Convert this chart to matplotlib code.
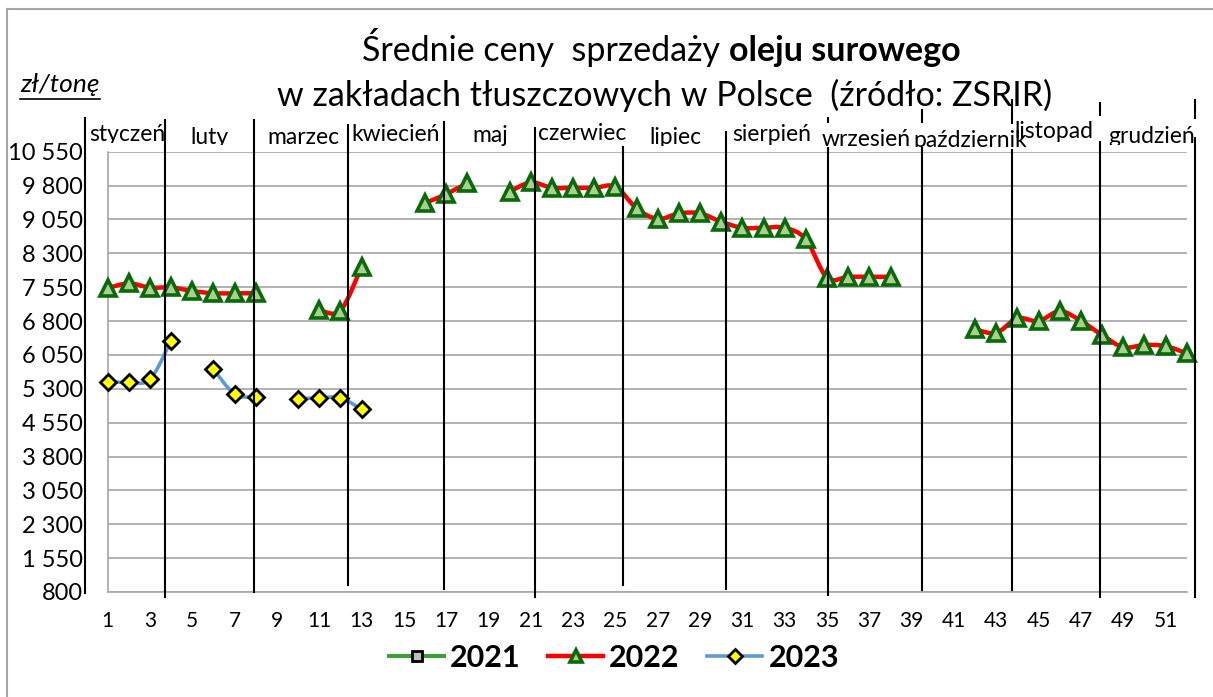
import numpy as np
import matplotlib
matplotlib.use('Agg')
import matplotlib.pyplot as plt
from matplotlib.path import Path
from matplotlib.patches import PathPatch
from matplotlib.lines import Line2D
import matplotlib.transforms as mtransforms
from matplotlib.ticker import FixedLocator, FuncFormatter

plt.rcParams['font.family'] = ['Lato', 'DejaVu Sans']

# ---------------- data ----------------
nan = np.nan
weeks = list(range(1, 53))
prices_2021 = []          # no values shown for 2021 (legend only)
weeks_2021 = []
prices_2022 = [7530, 7635, 7540, 7545, 7465, 7415, 7415, 7415, nan, nan,
               7045, 7030, 8000, nan, nan, 9415, 9610, 9860, nan, 9665,
               9870, 9750, 9750, 9750, 9775, 9295, 9060, 9185, 9185, 9000,
               8865, 8865, 8865, 8610, 7760, 7780, 7780, 7780, nan, nan,
               nan, 6615, 6540, 6860, 6800, 7020, 6805, 6490, 6220, 6270,
               6245, 6085]
weeks_2023 = list(range(1, 14))
prices_2023 = [5455, 5445, 5510, 6365, nan, 5730, 5185, 5110, nan, 5075,
               5100, 5100, 4845]
y_ticks = [800, 1550, 2300, 3050, 3800, 4550, 5300, 6050, 6800, 7550,
           8300, 9050, 9800, 10550]
x_ticks = list(range(1, 52, 2))
months = ['styczeń', 'luty', 'marzec', 'kwiecień', 'maj', 'czerwiec',
          'lipiec', 'sierpień', 'wrzesień', 'październik', 'listopad',
          'grudzień']
series_labels = ['2021', '2022', '2023']
title_normal = 'Średnie ceny  sprzedaży '
title_bold = 'oleju surowego'
title_line2 = 'w zakładach tłuszczowych w Polsce  (źródło: ZSRIR)'
unit_label = 'zł/tonę'

# ---------------- layout ----------------
W, H = 1213, 697
fig = plt.figure(figsize=(W / 100, H / 100), dpi=100)
fig.patch.set_facecolor('white')
pix = mtransforms.Affine2D().scale(1 / W, -1 / H).translate(0, 1) + fig.transFigure

ax_l, ax_r, ax_t, ax_b = 107.7, 1186.7, 151.7, 592.0
ax = fig.add_axes([ax_l / W, 1 - ax_b / H, (ax_r - ax_l) / W, (ax_b - ax_t) / H])
ax.set_xlim(1, 52)
ax.set_ylim(800, 10550)

grid_col = '#A6A6A6'
ax.yaxis.set_major_locator(FixedLocator(y_ticks))
ax.yaxis.set_major_formatter(FuncFormatter(lambda v, p: f'{int(v):,}'.replace(',', ' ')))
ax.xaxis.set_major_locator(FixedLocator(x_ticks))
ax.xaxis.set_major_formatter(FuncFormatter(lambda v, p: f'{int(v)}'))
ax.grid(axis='y', color=grid_col, lw=1.2, zorder=0)
ax.set_axisbelow(True)
ax.tick_params(axis='y', length=0, pad=18, labelsize=17)
ax.tick_params(axis='x', length=0, pad=14, labelsize=15)
for s in ['top', 'right']:
    ax.spines[s].set_visible(False)
for s in ['left', 'bottom']:
    ax.spines[s].set_color(grid_col)
    ax.spines[s].set_linewidth(1.2)


def smooth_path(xs, ys):
    xs = np.asarray(xs, float)
    ys = np.asarray(ys, float)
    ok = ~np.isnan(ys)
    verts, codes = [], []
    n = len(xs)
    i = 0
    while i < n:
        if not ok[i]:
            i += 1
            continue
        j = i
        while j + 1 < n and ok[j + 1]:
            j += 1
        P = np.column_stack([xs[i:j + 1], ys[i:j + 1]])
        m = len(P)
        verts.append(P[0]); codes.append(Path.MOVETO)
        for k in range(m - 1):
            p0 = P[k - 1] if k > 0 else P[k]
            p1, p2 = P[k], P[k + 1]
            p3 = P[k + 2] if k + 2 < m else P[k + 1]
            c1 = p1 + (p2 - p0) / 6.0
            c2 = p2 - (p3 - p1) / 6.0
            verts += [c1, c2, p2]
            codes += [Path.CURVE4] * 3
        i = j + 1
    if not verts:
        return None
    return Path(verts, codes)


styles = {
    '2021': dict(color='#3E9E3A', lw=3.0, marker='s', mfc='#BFBFBF', mec='black', ms=8, mew=2),
    '2022': dict(color='#FF0000', lw=3.2, marker='^', mfc='#A9D08E', mec='#0A6A0A', ms=11, mew=2.6),
    '2023': dict(color='#5B9BD5', lw=2.6, marker='D', mfc='#FFFF00', mec='black', ms=8.5, mew=2),
}

for lab, xs, ys in [('2021', weeks_2021, prices_2021),
                    ('2022', weeks, prices_2022),
                    ('2023', weeks_2023, prices_2023)]:
    st = styles[lab]
    if len(xs):
        p = smooth_path(xs, ys)
        if p is not None:
            ax.add_patch(PathPatch(p, fill=False, edgecolor=st['color'], lw=st['lw'],
                                   capstyle='round', joinstyle='round', zorder=3))
        ax.plot(xs, ys, linestyle='none', marker=st['marker'], mfc=st['mfc'],
                mec=st['mec'], ms=st['ms'], mew=st['mew'], zorder=4, clip_on=False)

handles = [Line2D([], [], color=styles[l]['color'], lw=styles[l]['lw'], marker=styles[l]['marker'],
                  mfc=styles[l]['mfc'], mec=styles[l]['mec'], ms=styles[l]['ms'] * 0.85,
                  mew=styles[l]['mew']) for l in series_labels]
fig.legend(handles, series_labels, loc='center', bbox_to_anchor=(614 / W, 1 - 658 / H),
           ncol=3, frameon=False, handlelength=1.8, handletextpad=0.2, columnspacing=0.9,
           prop={'family': ['Lato', 'DejaVu Sans'], 'weight': 'bold', 'size': 22})

# month separators (pixel x, vertical segments)
seps = [
    (85, [(118, 593)]),
    (164.5, [(120, 597)]),
    (254, [(120, 592)]),
    (348, [(125, 585)]),
    (443.5, [(122, 589)]),
    (535, [(128, 597)]),
    (623, [(147, 585)]),
    (726, [(132, 589)]),
    (828, [(118, 122), (148, 595)]),
    (921.7, [(110, 122), (148, 590)]),
    (1012, [(100, 123), (150, 590)]),
    (1099.5, [(103, 115), (142, 597)]),
    (1194.5, [(100, 118), (138, 597)]),
]
for x, segs in seps:
    for y0, y1 in segs:
        fig.add_artist(Line2D([x, x], [y0, y1], transform=pix, color='black', lw=1.5, zorder=5))

# month labels: (center x, baseline y, clip bottom y)
month_pos = [(127, 141, 142.5), (209, 144, 145), (303, 144, None), (396, 141, None),
             (490, 142, None), (582, 139.5, None), (675, 144.5, 145.5), (772, 141, None),
             (866, 145.5, 145.5), (970, 147, 147), (1054, 137.5, None), (1152, 143, 145)]
for name, (cx, by, cb) in zip(months, month_pos):
    t = fig.text(cx, by, name, transform=pix, ha='center', va='baseline', fontsize=16.5,
                 color='black', zorder=6)
    if cb is not None:
        bb = mtransforms.Bbox.from_extents(cx - 120, H - cb, cx + 120, H)
        t.set_clip_box(bb)
        t.set_clip_on(True)

# title
renderer = fig.canvas.get_renderer()
t1 = fig.text(0, 61, title_normal, transform=pix, ha='left', va='baseline', fontsize=24.5)
t2 = fig.text(0, 61, title_bold, transform=pix, ha='left', va='baseline', fontsize=24.5,
              fontweight='bold')
w1 = t1.get_window_extent(renderer).width
w2 = t2.get_window_extent(renderer).width
start = 661 - (w1 + w2) / 2
t1.set_x(start)
t2.set_x(start + w1)
fig.text(665, 106, title_line2, transform=pix, ha='center', va='baseline', fontsize=24.5)

# unit label with underline
tu = fig.text(20, 92, unit_label, transform=pix, ha='left', va='baseline', fontsize=19,
              fontstyle='italic')
wu = tu.get_window_extent(renderer).width
fig.add_artist(Line2D([20, 20 + wu], [99, 99], transform=pix, color='black', lw=1.2))

# outer frame
fig.add_artist(Line2D([7, 7], [9, H], transform=pix, color='#A6A6A6', lw=1.5))
fig.add_artist(Line2D([7, W], [9, 9], transform=pix, color='#A6A6A6', lw=1.5))

fig.savefig('out.png', dpi=100, facecolor='white')
